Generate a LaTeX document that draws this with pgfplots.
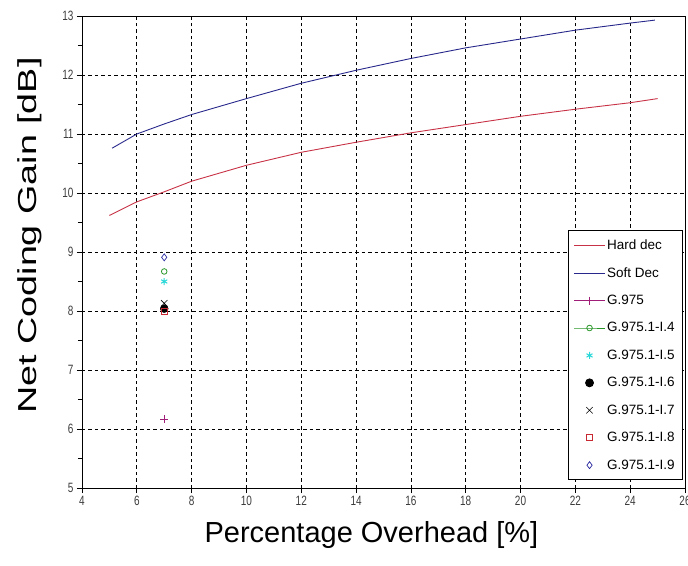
\documentclass[border=0pt]{standalone}
\usepackage{fontspec}
\setmainfont{Liberation Sans}
\usepackage{graphicx}
\usepackage{pgfplots}
\pgfplotsset{compat=1.18}
\definecolor{hardc}{RGB}{200,50,70}
\definecolor{softc}{RGB}{40,40,140}
\definecolor{g975}{RGB}{160,30,120}
\definecolor{gfour}{RGB}{40,150,40}
\definecolor{gfive}{RGB}{40,215,215}
\definecolor{geight}{RGB}{200,40,50}
\definecolor{gnine}{RGB}{40,40,160}
\definecolor{ticktxt}{RGB}{60,60,60}
\begin{document}
\begin{tikzpicture}
\begin{axis}[
  scale only axis, width=603pt, height=472pt,
  xmin=4, xmax=26, ymin=5, ymax=13,
  xtick={4,6,...,26}, ytick={5,6,...,13},
  minor y tick num=1,
  grid=major,
  major grid style={black, line width=0.8pt, dash pattern=on 3.5pt off 3pt},
  axis line style={black, line width=0.8pt},
  tick style={black, line width=0.8pt},
  xtick align=outside, ytick align=outside,
  major tick length=5pt, minor tick length=4pt,
  xtick pos=bottom, ytick pos=left,
  tick label style={font=\fontsize{10}{10}\selectfont, text=ticktxt},
  xticklabel={\scalebox{1}[1.35]{\pgfmathprintnumber{\tick}}},
  yticklabel={\scalebox{1}[1.35]{\pgfmathprintnumber{\tick}}},
  /pgf/number format/assume math mode=true,
  xlabel={Percentage Overhead [\%]},
  ylabel={\scalebox{1.45}[1]{Net Coding Gain [dB]}},
  xlabel style={font=\fontsize{29}{29}\selectfont, at={(axis description cs:0.48,0)}, anchor=north, yshift=-30pt},
  ylabel style={font=\fontsize{26}{26}\selectfont, at={(axis description cs:0,0.535)}, anchor=south, yshift=37pt},
  legend style={at={(rel axis cs:1,0)}, anchor=south east, xshift=-2pt, yshift=8pt,
    font=\fontsize{13.5}{13.5}\selectfont, draw=black, line width=0.8pt, row sep=12.5pt,
    inner xsep=6pt, inner ysep=7pt, legend cell align=left},
  legend image code/.code={\draw[mark repeat=2,mark phase=2] plot coordinates {(0cm,0cm) (0.53cm,0cm) (1.06cm,0cm)};},
]
\addplot[hardc, line width=0.9pt, no marks] coordinates {
(5,9.62) (6,9.85) (7,10.02) (8,10.2) (10,10.47) (12,10.69) (14,10.86) (16,11.02) (18,11.16) (20,11.3) (22,11.42) (24,11.53) (25,11.6)};
\addlegendentry{Hard dec}
\addplot[softc, line width=0.9pt, no marks] coordinates {
(5.1,10.76) (6,11.0) (7,11.17) (8,11.33) (10,11.6) (12,11.86) (14,12.08) (16,12.28) (18,12.46) (20,12.61) (22,12.76) (24,12.88) (24.9,12.93)};
\addlegendentry{Soft Dec}
\addplot[g975, line width=0.8pt, mark=+, mark size=4pt] coordinates {(7,6.17)};
\addlegendentry{G.975}
\addplot[gfour, line width=0.8pt, mark=o, mark size=2.8pt] coordinates {(7,8.67)};
\addlegendentry{G.975.1-I.4}
\addplot[gfive, line width=1pt, only marks, mark=asterisk, mark size=3.5pt] coordinates {(7,8.5)};
\addlegendentry{G.975.1-I.5}
\addplot[black, only marks, mark=*, mark size=4pt] coordinates {(7,8.04)};
\addlegendentry{G.975.1-I.6}
\addplot[black, line width=0.6pt, only marks, mark=x, mark size=4.5pt] coordinates {(7,8.13)};
\addlegendentry{G.975.1-I.7}
\addplot[geight, line width=0.8pt, only marks, mark=square, mark size=3pt] coordinates {(7,8.0)};
\addlegendentry{G.975.1-I.8}
\addplot[gnine, line width=0.7pt, only marks, mark=diamond, mark size=3.5pt] coordinates {(7,8.91)};
\addlegendentry{G.975.1-I.9}
\end{axis}
\pgfresetboundingbox
\path ([shift={(-82pt,-77pt)}]current axis.south west) rectangle ([shift={(3pt,16pt)}]current axis.north east);
\end{tikzpicture}
\end{document}
